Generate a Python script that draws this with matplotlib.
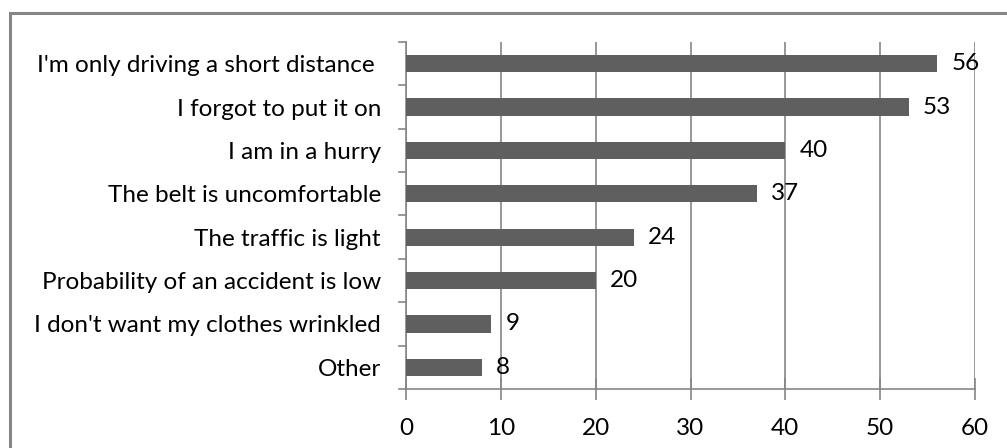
import matplotlib
matplotlib.use("Agg")
import matplotlib.pyplot as plt
from matplotlib.patches import Rectangle

categories = [
    "I'm only driving a short distance ",
    "I forgot to put it on",
    "I am in a hurry",
    "The belt is uncomfortable",
    "The traffic is light",
    "Probability of an accident is low",
    "I don't want my clothes wrinkled",
    "Other",
]
values = [56, 53, 40, 37, 24, 20, 9, 8]
x_ticks = [0, 10, 20, 30, 40, 50, 60]

plt.rcParams["font.family"] = ["Lato", "DejaVu Sans"]

W, H = 1007, 448
fig = plt.figure(figsize=(W / 100, H / 100), dpi=100)
left, right, top, bottom = 406, 975, 42, 389
ax = fig.add_axes([left / W, 1 - bottom / H, (right - left) / W, (bottom - top) / H])

grid_c = "#868686"
bar_c = "#5f5f5f"
fs = 17.5

n = len(categories)
ypos = list(range(n))
ax.barh(ypos, values, height=0.4, color=bar_c, zorder=3)
ax.set_ylim(n - 0.5, -0.5)
ax.set_xlim(0, 60)

ax.set_yticks(ypos)
ax.set_yticklabels(categories, fontsize=fs)
ax.tick_params(axis="y", length=0, pad=18)
# category boundary ticks on the left of the value axis
tick_frac = 7 / (right - left)
for b in range(n + 1):
    ax.plot([-tick_frac, 0], [b - 0.5, b - 0.5], color=grid_c, lw=1.2,
            transform=ax.get_yaxis_transform(), clip_on=False, zorder=4)

ax.set_xticks(x_ticks)
ax.set_xticklabels([str(t) for t in x_ticks], fontsize=fs)
ax.tick_params(axis="x", direction="inout", length=16, width=1.2, color=grid_c, pad=13)
ax.xaxis.grid(True, color=grid_c, lw=1.2, zorder=1)

for s in ["top", "right"]:
    ax.spines[s].set_visible(False)
ax.spines["left"].set_color(grid_c)
ax.spines["left"].set_linewidth(1.2)
ax.spines["bottom"].set_color(grid_c)
ax.spines["bottom"].set_linewidth(1.2)

for y, v in zip(ypos, values):
    ax.text(v + 1.5, y, str(v), va="center", ha="left", fontsize=fs, color="black",
            zorder=5)

# outer frame of the chart area
fig.patches.append(Rectangle((9.5 / W, -0.1), 1.2, 1 - 13 / H + 0.1,
                             transform=fig.transFigure, fill=False,
                             edgecolor="#868686", lw=2.2))

fig.savefig("out.png", dpi=100)
